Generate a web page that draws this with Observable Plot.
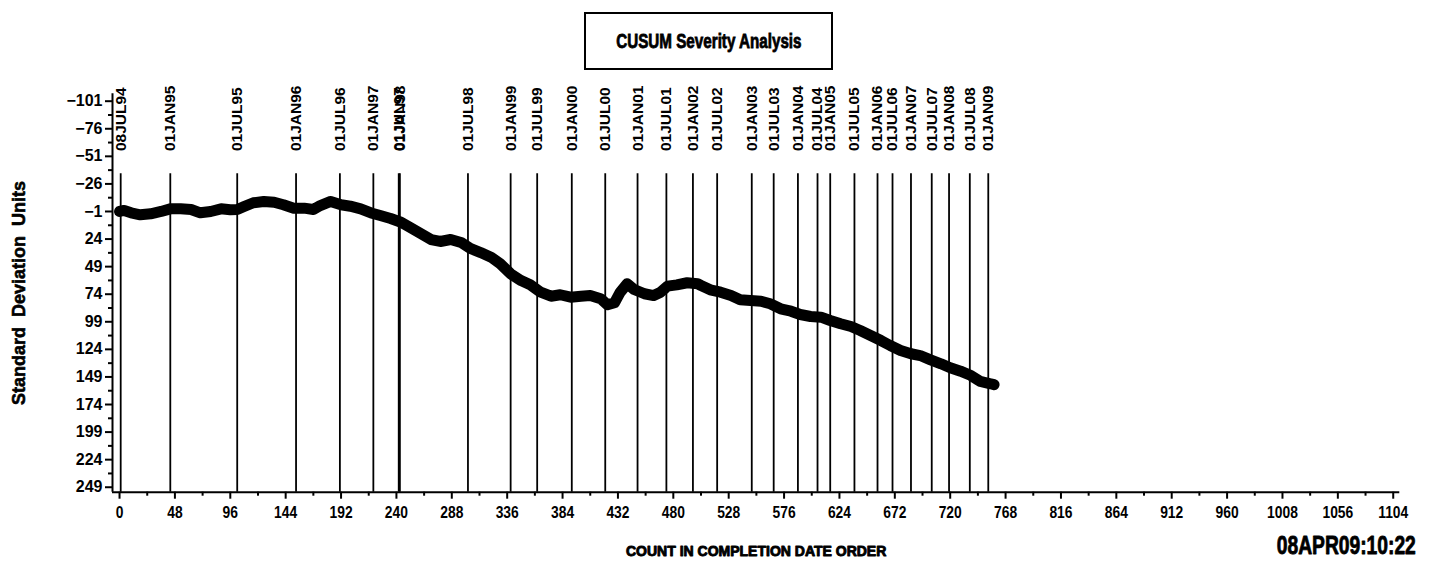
<!DOCTYPE html>
<html><head><meta charset="utf-8">
<script src="https://cdn.jsdelivr.net/npm/d3@7"></script>
<script src="https://cdn.jsdelivr.net/npm/@observablehq/plot@0.6"></script>
<style>
body{margin:0;background:#fff;}
#wrap{position:relative;width:1431px;height:564px;overflow:hidden;}
#wrap svg{position:absolute;left:0;top:0;}
#title{position:absolute;left:584px;top:12px;width:249px;height:58px;box-sizing:border-box;border:2.5px solid #000;display:flex;align-items:center;justify-content:center;color:#000;}
#title span{display:inline-block;white-space:nowrap;font-family:"Liberation Sans",Arial,sans-serif;font-weight:bold;font-size:20px;transform:scaleX(0.76);-webkit-text-stroke:0.8px #000;}
</style></head><body>
<div id="wrap"></div>
<script>
// CUSUM series: count in completion date order vs standard deviation units
const counts = [0,4,10,18,27,36,44,53,62,70,79,88,96,102,108,116,125,134,142,151,160,168,174,183,192,200,209,218,226,235,244,252,261,270,278,287,296,304,313,322,330,339,348,356,365,374,382,391,400,408,417,423,429,434,440,446,455,463,469,475,483,492,501,504,512,521,530,538,547,556,564,573,582,590,599,608,616,625,634,642,651,660,668,677,686,694,703,712,720,729,738,746,755,758];
const values = [-1,-1.9,0.2,2,1.1,-1,-3.4,-3.4,-2.8,0.2,-1,-3.4,-2.5,-2.8,-5.5,-8.9,-10.1,-9.4,-7.1,-4,-4,-2.8,-6.4,-10.1,-7.1,-5.8,-3.4,0.3,2.7,5.4,8.7,13.5,18.9,24.4,26.2,24.4,27.1,32.5,36.2,40.4,46.4,55.5,61.6,65.5,72.2,75.8,74.5,76.7,75.8,75.2,78.1,83.6,81.8,72.2,64.5,69.7,73.6,75.2,72.2,66.7,65.5,63.6,64.5,66.1,70,72.2,75.2,79.1,79.7,80.3,82.7,87.2,89.4,92.4,94.2,94.8,97.8,100.8,103.3,106.9,111.4,116,120.5,125,128,129.6,133.5,137.1,140.7,143.8,147.7,153.1,155.2,156];

// Date reference lines
const dateLabels = ["08JUL94","01JAN95","01JUL95","01JAN96","01JUL96","01JAN97","01JUL97","01JAN98","01JUL98","01JAN99","01JUL99","01JAN00","01JUL00","01JAN01","01JUL01","01JAN02","01JUL02","01JAN03","01JUL03","01JAN04","01JUL04","01JAN05","01JUL05","01JAN06","01JUL06","01JAN07","01JUL07","01JAN08","01JUL08","01JAN09"];
const dateCounts = [1,44,102,153,191,220,242,243,302,339,362,392,421,449,474,497,518,548,567,588,605,616,637,657,670,686,704,719,737,753];

// Tick labels
const xTicks = [0,48,96,144,192,240,288,336,384,432,480,528,576,624,672,720,768,816,864,912,960,1008,1056,1104];
const yTicks = [-101,-76,-51,-26,-1,24,49,74,99,124,149,174,199,224,249];

// Texts
const titleText = "CUSUM Severity Analysis";
const yTitle = "Standard  Deviation  Units";
const xTitle = "COUNT IN COMPLETION DATE ORDER";
const stamp = "08APR09:10:22";

const xDomain = [-6.1, 1109.7];
const yDomain = [-107.7, 253.5];
const ruleTop = -35.2;
const labelBase = -55.8;

const series = counts.map((c, i) => ({count: c, sd: values[i]}));
const dates = dateCounts.map((c, i) => ({count: c, label: dateLabels[i]}));
const xMinor = d3.pairs(xTicks).map(([a, b]) => (a + b) / 2);
const yMinor = d3.pairs(yTicks).map(([a, b]) => (a + b) / 2);
const fmt = d => d < 0 ? "\u2212" + (-d) : String(d);
const blank = () => "";

const chart = Plot.plot({
  width: 1431, height: 564,
  marginTop: 93.3, marginBottom: 72.3, marginLeft: 112, marginRight: 31.7,
  style: {fontFamily: "Liberation Sans, Arial, sans-serif", background: "#fff", color: "#000", overflow: "visible"},
  x: {domain: xDomain},
  y: {domain: yDomain, reverse: true},
  marks: [
    Plot.ruleX(dates, {x: "count", y1: ruleTop, y2: yDomain[1], stroke: "#000", strokeWidth: 1.8}),
    Plot.text(dates, {x: "count", y: labelBase, text: "label", rotate: -90, textAnchor: "start", lineAnchor: "middle", fontSize: 15.5, fontWeight: "bold", fill: "#000"}),
    Plot.line(series, {x: "count", y: "sd", stroke: "#000", strokeWidth: 11, strokeLinejoin: "round", strokeLinecap: "round"}),
    Plot.ruleX([xDomain[0]], {stroke: "#000", strokeWidth: 2}),
    Plot.ruleY([yDomain[1]], {stroke: "#000", strokeWidth: 2}),
    Plot.axisY(yTicks, {tickSize: 7, tickPadding: 3, fontSize: 16, fontWeight: "bold", strokeWidth: 2, label: null, tickFormat: fmt}),
    Plot.axisY(yMinor, {tickSize: 4, strokeWidth: 2, label: null, tickFormat: blank}),
    Plot.axisX(xTicks, {tickSize: 7, tickPadding: 7, fontSize: 16.5, fontWeight: "bold", strokeWidth: 2, label: null, tickFormat: d => String(d)}),
    Plot.axisX(xMinor, {tickSize: 4, strokeWidth: 2, label: null, tickFormat: blank}),
    Plot.text([yTitle], {text: d => d, frameAnchor: "left", dx: -93.5, rotate: -90, textAnchor: "middle", lineAnchor: "middle", fontSize: 18, fontWeight: "bold", fill: "#000", stroke: "#000", strokeWidth: 0.6}),
    Plot.text([xTitle], {text: d => d, frameAnchor: "bottom", dy: 59, textAnchor: "middle", lineAnchor: "middle", fontSize: 14, fontWeight: "bold", fill: "#000", stroke: "#000", strokeWidth: 0.9}),
    Plot.text([stamp], {text: d => d, frameAnchor: "bottom-right", dx: 16, dy: 54, textAnchor: "end", lineAnchor: "middle", fontSize: 25, fontWeight: "bold", fill: "#000", stroke: "#000", strokeWidth: 0.8})
  ]
});
const wrap = document.getElementById("wrap");
wrap.appendChild(chart);
const t = document.createElement("div");
t.id = "title";
const s = document.createElement("span");
s.textContent = titleText;
t.appendChild(s);
wrap.appendChild(t);

// condense some texts horizontally (about their anchor) to mimic the narrow SAS fonts
function squeeze(el, k) {
  const tr = el.getAttribute("transform") || "";
  el.setAttribute("transform", (tr + ` scale(${k},1)`).trim());
}
chart.querySelectorAll("text").forEach(el => {
  if (el.textContent === stamp) squeeze(el, 0.77);
});
chart.querySelectorAll('g[aria-label="x-axis tick label"] text').forEach(el => {
  if (el.textContent) squeeze(el, 0.84);
});
</script>
</body></html>
